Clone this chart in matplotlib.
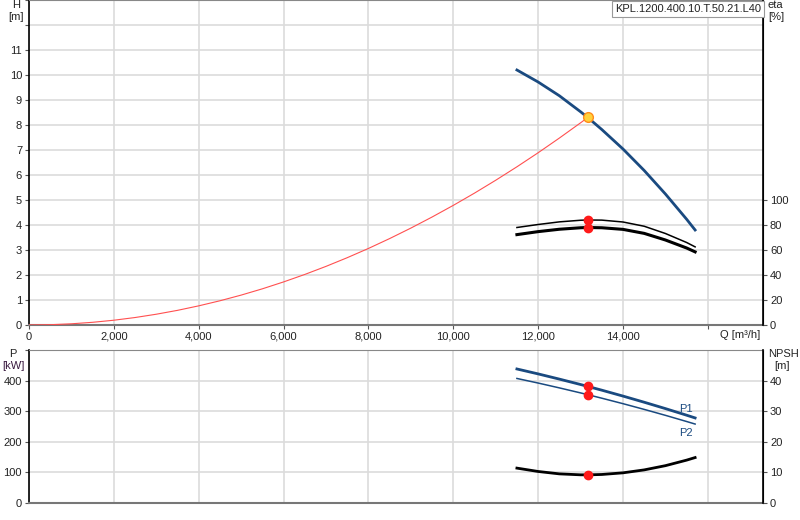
import matplotlib
matplotlib.use("Agg")
import matplotlib.pyplot as plt

plt.rcParams['font.family'] = ['Liberation Sans', 'DejaVu Sans']
plt.rcParams['font.size'] = 8

# ---- data ----
q_pump = [11500, 12000, 12500, 13000, 13170, 13500, 14000, 14500, 15000, 15500, 15700]
h_pump = [10.20, 9.72, 9.17, 8.53, 8.30, 7.82, 7.04, 6.18, 5.24, 4.23, 3.80]

q_sys = [0, 500, 1000, 1500, 2000, 2500, 3000, 3500, 4000, 4500, 5000, 5500, 6000, 6500,
         7000, 7500, 8000, 8500, 9000, 9500, 10000, 10500, 11000, 11500, 12000, 12500, 13000, 13170]
h_sys = [0.0, 0.012, 0.048, 0.108, 0.191, 0.299, 0.431, 0.586, 0.766, 0.969, 1.196, 1.447, 1.723, 2.022,
         2.345, 2.692, 3.062, 3.457, 3.876, 4.319, 4.785, 5.275, 5.790, 6.328, 6.890, 7.477, 8.087, 8.30]

q_eta = [11500, 12000, 12500, 13000, 13170, 13500, 14000, 14500, 15000, 15500, 15700]
eta1 = [78.0, 80.4, 82.5, 83.8, 84.0, 83.9, 82.4, 79.0, 73.2, 66.0, 62.5]
eta2 = [72.3, 74.7, 76.6, 77.8, 78.0, 77.8, 76.5, 73.3, 68.0, 61.6, 58.5]

q_p = [11500, 12000, 12500, 13000, 13170, 13500, 14000, 14500, 15000, 15500, 15700]
p1 = [438.0, 421.9, 404.9, 387.2, 381.0, 368.7, 349.4, 329.3, 308.5, 286.9, 278.0]
p2 = [407.0, 392.0, 376.2, 359.8, 354.0, 342.5, 324.6, 305.9, 286.5, 266.3, 258.0]
npsh = [11.40, 10.30, 9.52, 9.21, 9.20, 9.32, 9.86, 10.82, 12.20, 14.01, 14.85]

q_op = 13170
h_op = 8.30
eta1_op, eta2_op = 84.0, 78.0
p1_op, p2_op = 381, 354
npsh_op = 9.2

x_tick_labels = ['0', '2,000', '4,000', '6,000', '8,000', '10,000', '12,000', '14,000', '']

BLUE = '#1a4a80'
GRID = '#dcdcdc'
TXT = '#222222'

fig = plt.figure(figsize=(8, 5.2), dpi=100)
W, H = 800, 520

def rect(l, t, r, b):
    return [l / W, 1 - b / H, (r - l) / W, (b - t) / H]

ax = fig.add_axes(rect(29, 0, 763, 325))
ax2 = ax.twinx()
bx = fig.add_axes(rect(29, 350, 763, 503))
bx2 = bx.twinx()

XMAX = 17300
for a in (ax, bx):
    a.set_xlim(0, XMAX)
    a.set_xticks(list(range(0, 17000, 2000)))
    a.grid(True, color=GRID, linewidth=1.2)
    a.set_axisbelow(True)
    a.tick_params(axis='both', length=3, width=0.8, colors='#555555', labelcolor=TXT, labelsize=8, pad=2)
    a.spines['left'].set_color('black')
    a.spines['left'].set_linewidth(1.2)
    a.spines['bottom'].set_color('#777777')
    a.spines['bottom'].set_linewidth(1.5)
    a.spines['top'].set_color('#888888')

ax.set_ylim(0, 13)
ax.set_yticks(range(0, 14))
ax.set_yticklabels([str(i) for i in range(12)] + ['', ''])
ax.set_xticklabels(x_tick_labels)
ax2.set_ylim(0, 260)
ax2.set_yticks([0, 20, 40, 60, 80, 100])
for a2 in (ax2, bx2):
    a2.tick_params(axis='y', length=3, width=0.8, colors='#555555', labelcolor=TXT, labelsize=8, pad=2)
    a2.spines['right'].set_color('black')
    a2.spines['right'].set_linewidth(1.2)
    for s in ('left', 'top', 'bottom'):
        a2.spines[s].set_visible(False)

bx.set_ylim(0, 500)
bx.set_yticks([0, 100, 200, 300, 400, 500])
bx.set_yticklabels(['0', '100', '200', '300', '400', ''])
bx.set_xticklabels([])
bx.tick_params(axis='x', length=0)
bx2.set_ylim(0, 50)
bx2.set_yticks([0, 10, 20, 30, 40])

# top chart
ax.plot(q_sys, h_sys, color='#ff5050', linewidth=0.8, zorder=3)
ax.plot(q_pump, h_pump, color=BLUE, linewidth=2.0, zorder=4)
ax.plot([q_op], [h_op], 'o', markersize=7, markerfacecolor='#ffd23c', markeredgecolor='#ff8c1a',
        markeredgewidth=1.0, zorder=6)
ax2.plot(q_eta, eta1, color='black', linewidth=1.1, zorder=4)
ax2.plot(q_eta, eta2, color='black', linewidth=2.2, zorder=4)
ax2.plot([q_op, q_op], [eta1_op, eta2_op], 'o', color='#ff1a1a', markersize=6, zorder=6, linestyle='none')

# bottom chart
bx.plot(q_p, p1, color=BLUE, linewidth=2.0, zorder=4)
bx.plot(q_p, p2, color=BLUE, linewidth=1.1, zorder=4)
bx.plot([q_op, q_op], [p1_op, p2_op], 'o', color='#ff1a1a', markersize=6, zorder=6, linestyle='none')
bx2.plot(q_p, npsh, color='black', linewidth=2.0, zorder=4)
bx2.plot([q_op], [npsh_op], 'o', color='#ff1a1a', markersize=6, zorder=6)
bx.text(q_p[-1] - 50, p1[-1] + 12, 'P1', color=BLUE, fontsize=8, ha='right', va='bottom')
bx.text(q_p[-1] - 50, p2[-1] - 12, 'P2', color=BLUE, fontsize=8, ha='right', va='top')

# axis labels
fig.text(16 / W, 1 - 5 / H, 'H', ha='center', va='center', color=TXT, fontsize=8)
fig.text(16 / W, 1 - 17 / H, '[m]', ha='center', va='center', color=TXT, fontsize=8)
fig.text(768 / W, 1 - 5 / H, 'eta', ha='left', va='center', color=TXT, fontsize=8)
fig.text(768 / W, 1 - 17 / H, '[%]', ha='left', va='center', color=TXT, fontsize=8)
fig.text(13 / W, 1 - 354 / H, 'P', ha='center', va='center', color=TXT, fontsize=8)
fig.text(13 / W, 1 - 366 / H, '[kW]', ha='center', va='center', color='#3a1a40', fontsize=8)
fig.text(768 / W, 1 - 354 / H, 'NPSH', ha='left', va='center', color=TXT, fontsize=8)
fig.text(782 / W, 1 - 366 / H, '[m]', ha='center', va='center', color=TXT, fontsize=8)
fig.text(740 / W, 1 - 335 / H, 'Q [m³/h]', ha='center', va='center', color=TXT, fontsize=8)

# title box
fig.text(688 / W, 1 - 9 / H, 'KPL.1200.400.10.T.50.21.L40', ha='center', va='center', color=TXT, fontsize=8,
         bbox=dict(boxstyle='square,pad=0.3', facecolor='white', edgecolor='#999999', linewidth=0.8))

fig.savefig('out.png', dpi=100)
